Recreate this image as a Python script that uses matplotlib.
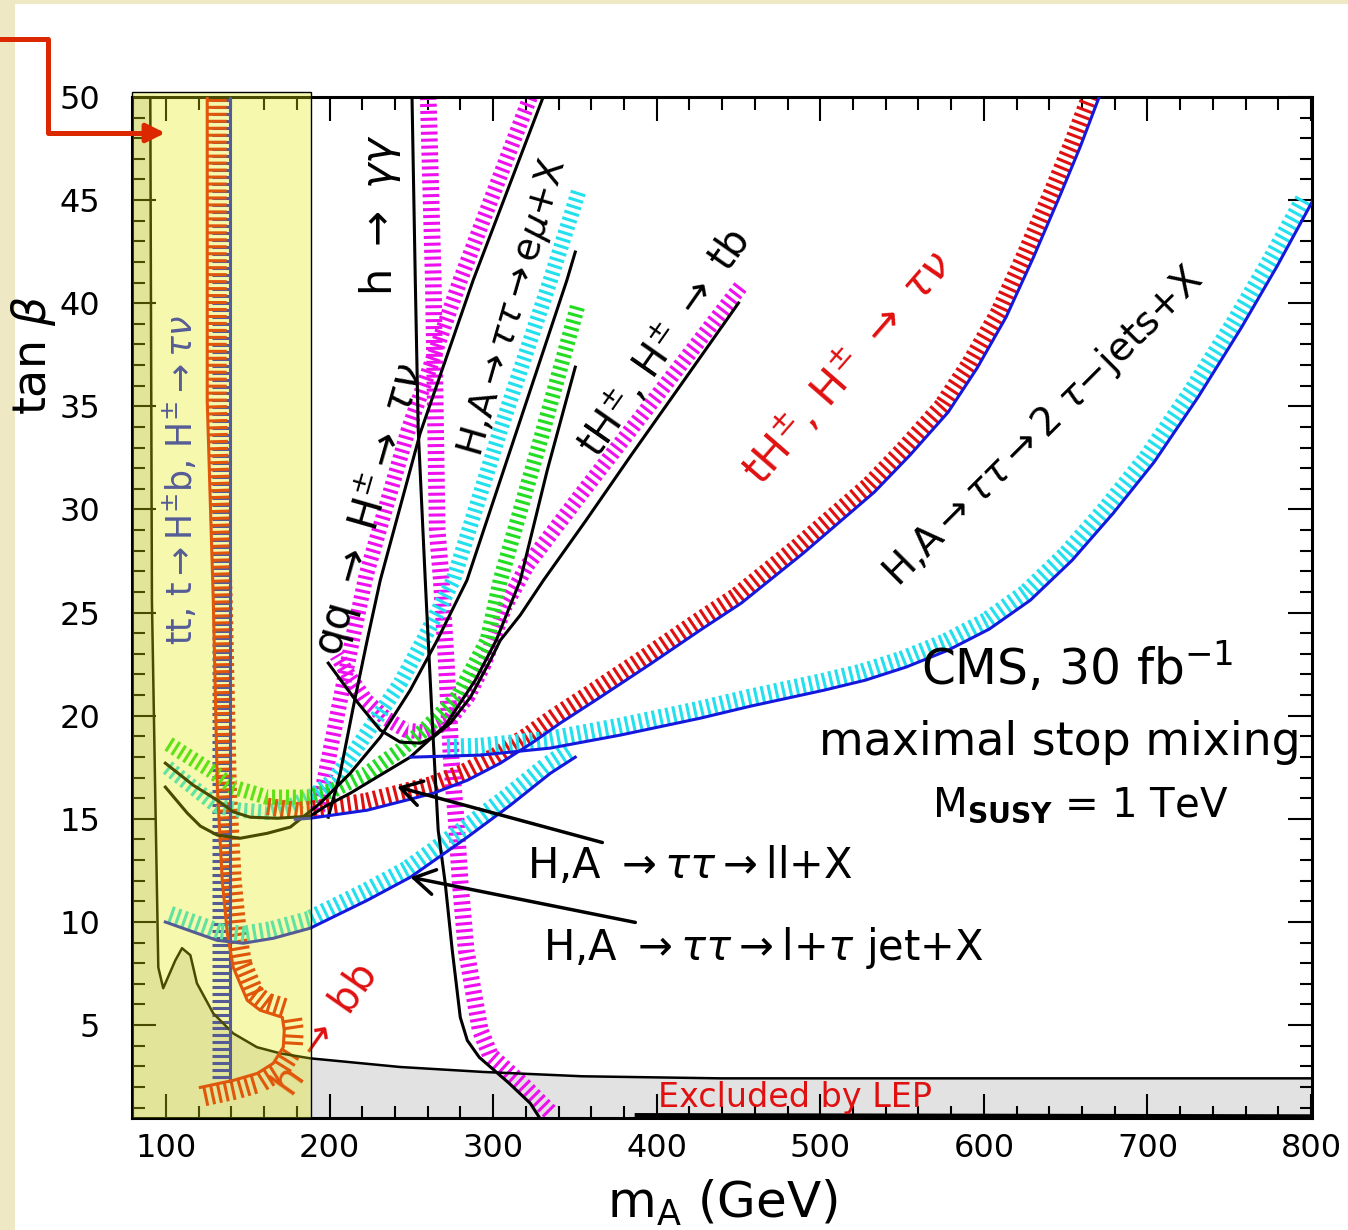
import matplotlib.pyplot as plt
from matplotlib.patches import Rectangle, FancyArrowPatch
from matplotlib.lines import Line2D
from matplotlib.patheffects import TickedStroke
from matplotlib.ticker import MultipleLocator

plt.rcParams['font.family'] = ['DejaVu Sans']
plt.rcParams['mathtext.fontset'] = 'dejavusans'
plt.rcParams['lines.scale_dashes'] = False

MAGENTA = '#EE10EE'
CYAN = '#22E0EE'
GREEN = '#22DD22'
RED = '#E01010'
BLUE = '#1418DC'

# all curves: x = m_A (GeV), y = tan(beta)

# theoretically forbidden region + LEP exclusion boundary
lep_x = [90.4, 91.4, 93.5, 95.3, 98.3, 105.7, 109.8, 114.9, 118.9, 128.9, 141.1,
         155.6, 169.9, 188.2, 243.2, 294.0, 354.5, 438.9, 800.6]
lep_y = [50.0, 25.6, 15.9, 7.8, 6.79, 8.14, 8.73, 8.39, 7.03, 5.57, 4.60,
         3.93, 3.63, 3.39, 2.97, 2.73, 2.52, 2.42, 2.42]
low_x = [388.0, 800.6]
low_y = [0.62, 0.56]

# tt, t -> H+b, H+ -> tau nu
tt_x = [139.2, 139.2]
tt_y = [50.0, 2.3]

# h -> bb
hbb_x = [125.2, 125.2, 128.9, 131.4, 134.4, 137.5, 141.1, 149.7, 157.6, 171.1,
         172.3, 171.7, 165.6, 155.8, 141.1, 121.0]
hbb_y = [50.0, 35.3, 25.6, 16.5, 12.0, 9.45, 7.8, 6.2, 5.72, 5.38,
         4.75, 3.93, 3.15, 2.66, 2.32, 1.98]

# h -> gamma gamma
gg_x = [250.4, 252.4, 254.2, 258.5, 260.3, 263.4, 266.4, 270.7, 275.0, 279.9,
        284.2, 291.5, 309.8, 322.7, 328.2]
gg_y = [50.0, 41.12, 33.85, 26.57, 23.66, 18.81, 14.45, 11.88, 8.63, 5.38,
        4.26, 3.44, 2.18, 1.21, 0.53]
ggb_x = [260.3, 263.4, 265.8, 268.3, 271.3, 274.4, 277.4, 279.9, 283.5, 287.8,
         292.1, 298.3, 317.2, 335.6]
ggb_y = [50.0, 41.12, 29.0, 26.57, 22.69, 17.84, 14.93, 11.88, 8.63, 6.69,
         4.75, 3.54, 2.18, 0.72]

# qq -> H+ -> tau nu
qq_x = [330.6, 287.8, 255.4, 231.0, 223.0, 214.5, 206.5, 199.2]
qq_y = [50.0, 41.12, 33.7, 26.57, 23.66, 20.42, 17.21, 15.08]
qqb_x = [322.7, 279.9, 248.1, 222.4, 213.9, 206.5, 199.2, 194.3, 191.9]
qqb_y = [50.0, 41.12, 33.85, 26.82, 23.66, 20.75, 17.84, 15.9, 15.18]

# H,A -> tau tau -> e mu + X
emu_x = [350.2, 345.1, 316.6, 284.0, 265.8, 249.3, 231.0, 212.6, 194.3, 176.0,
         161.9, 145.4, 131.4, 121.0, 113.0, 99.6]
emu_y = [42.48, 41.12, 34.33, 26.57, 23.66, 21.24, 18.96, 17.21, 15.76, 14.6,
         14.3, 14.06, 14.21, 14.65, 15.28, 16.54]
emub_x = [352.1, 335.0, 304.4, 275.6, 257.3, 243.2, 229.2, 216.9, 202.3, 190.1,
          176.0, 161.9, 145.4, 131.4, 114.9, 100.8]
emub_y = [45.39, 41.12, 33.85, 26.57, 23.66, 21.58, 19.93, 18.47, 16.87, 16.15,
          15.61, 15.32, 15.42, 15.61, 16.63, 17.5]

# H,A -> tau tau -> ll + X
ll_x = [350.2, 333.1, 316.6, 301.9, 289.1, 270.8, 249.3, 231.0, 212.6, 197.4,
        188.2, 168.0, 151.5, 141.1, 131.4, 116.7, 99.6]
ll_y = [36.9, 31.91, 26.57, 23.66, 21.72, 19.54, 17.99, 17.12, 16.24, 15.61,
        15.13, 15.03, 15.08, 15.34, 15.9, 16.63, 17.7]
llb_x = [351.5, 328.9, 304.4, 296.4, 278.1, 259.7, 243.2, 223.0, 202.3, 186.4,
         161.9, 141.1, 127.1, 110.6, 100.8]
llb_y = [39.82, 33.36, 26.57, 23.66, 20.9, 19.45, 18.33, 17.21, 16.39, 16.05,
         16.05, 16.54, 17.36, 18.18, 18.67]

# tH+, H+ -> tb
tb_x = [450.0, 420.7, 384.0, 356.5, 330.8, 316.6, 304.4, 298.3, 286.1, 273.8,
        263.4, 255.5, 243.2, 231.0, 214.5, 199.2]
tb_y = [40.01, 36.71, 32.59, 29.44, 26.57, 24.88, 23.66, 22.69, 20.9, 19.64,
        18.96, 18.67, 18.72, 19.3, 20.9, 22.55]
tbb_x = [451.2, 420.7, 384.0, 353.4, 321.0, 307.6, 294.2, 284.4, 272.2, 258.7,
         246.5, 234.3, 222.1, 211.6, 204.3]
tbb_y = [40.79, 37.63, 33.85, 30.7, 27.3, 25.36, 22.45, 20.9, 19.69, 19.2,
         19.3, 19.88, 20.75, 21.97, 22.94]

# tH+, H+ -> tau nu
hpm_x = [179.0, 188.2, 223.0, 263.4, 284.2, 304.4, 324.5, 341.0, 365.5, 396.0,
         426.6, 451.7, 489.6, 533.0, 554.9, 578.2, 595.9, 613.6, 630.1, 646.7,
         658.9, 670.5]
hpm_y = [14.98, 15.03, 15.42, 16.24, 16.87, 17.7, 18.72, 19.64, 20.9, 22.5,
         24.15, 25.46, 27.88, 30.84, 32.64, 34.72, 36.86, 39.33, 42.19, 45.25,
         47.58, 50.0]
hpmb_x = [160.0, 179.0, 188.2, 223.0, 263.4, 284.2, 304.4, 324.5, 341.0, 365.5,
          396.0, 426.6, 451.7, 489.6, 533.0, 554.9, 578.2, 595.9, 613.6, 630.1,
          646.7, 658.9, 670.5]
hpmb_y = [15.2, 14.98, 15.03, 15.42, 16.24, 16.87, 17.7, 18.72, 19.64, 20.9,
          22.5, 24.15, 25.46, 27.88, 30.84, 32.64, 34.72, 36.86, 39.33, 42.19,
          45.25, 47.58, 50.0]

# H,A -> tau tau -> 2 tau-jets + X
t2_x = [249.4, 292.1, 334.9, 377.7, 426.6, 457.2, 502.4, 527.4, 552.5, 578.2,
        603.3, 628.4, 654.0, 679.1, 704.1, 731.0, 757.3, 779.3, 800.6]
t2_y = [17.99, 18.09, 18.43, 19.06, 19.88, 20.46, 21.24, 21.72, 22.36, 23.18,
        24.2, 25.6, 27.54, 29.82, 32.3, 35.45, 38.8, 41.8, 44.9]
t2b_x = [270.8, 292.1, 334.9, 377.7, 426.6, 457.2, 502.4, 527.4, 552.5, 578.2,
         603.3, 628.4, 654.0, 679.1, 704.1, 731.0, 757.3, 779.3, 800.6]
t2b_y = [18.04, 18.09, 18.43, 19.06, 19.88, 20.46, 21.24, 21.72, 22.36, 23.18,
         24.2, 25.6, 27.54, 29.82, 32.3, 35.45, 38.8, 41.8, 44.9]

# H,A -> tau tau -> l + tau jet + X
lt_x = [99.6, 131.2, 147.2, 165.6, 188.2, 223.0, 249.4, 284.2, 310.5, 335.0, 350.2]
lt_y = [10.0, 9.11, 8.97, 9.21, 9.7, 11.05, 12.17, 14.11, 15.66, 17.21, 17.99]

# region covered by the semi-transparent box
box_x = [79.2, 188.6]
box_y = [0.5, 50.24]

fig = plt.figure(figsize=(13.48, 12.30), dpi=100, facecolor='#EEE8C4')
fig.add_artist(Rectangle((15 / 1348, 0), 1, 1 - 4 / 1230, transform=fig.transFigure,
                         facecolor='white', edgecolor='none', zorder=-5))

ax = fig.add_axes([0.0979, 0.0911, 0.8754, 0.8301])
ax.set_xlim(79.2, 800.6)
ax.set_ylim(0.5, 50)


def band(x, y, color, lw=11):
    ax.plot(x, y, color=color, lw=lw, ls=(0, (2.2, 2.8)), zorder=2)


def ticked(x, y, color, angle, length):
    ax.plot(x, y, color=color, lw=2.2, solid_capstyle='butt', zorder=2,
            path_effects=[TickedStroke(angle=angle, spacing=5, length=length)])


def line(x, y, color='k', lw=2.2):
    ax.plot(x, y, color=color, lw=lw, zorder=3, solid_joinstyle='round')


# excluded area
ax.fill([box_x[0]] + lep_x + [800.6, box_x[0]], [50.0] + lep_y + [0.5, 0.5],
        color='#E2E2E2', lw=0, zorder=0.5)
line(lep_x, lep_y, lw=1.8)
line(low_x, low_y, lw=3.5)

# hatched bands
ticked(tt_x, tt_y, BLUE, -90, 2.6)
ticked(hbb_x, hbb_y, RED, 90, 2.8)
band(ggb_x, ggb_y, MAGENTA, 12)
band(qqb_x, qqb_y, MAGENTA)
band(tbb_x, tbb_y, MAGENTA)
band(emub_x, emub_y, CYAN)
band(llb_x, llb_y, GREEN)
ticked(hpmb_x, hpmb_y, RED, 90, 2.5)
ticked(t2b_x, t2b_y, CYAN, 90, 2.5)
ticked(lt_x, lt_y, CYAN, 90, 2.5)

# solid curves
line(tt_x, tt_y, BLUE)
line(hbb_x, hbb_y, RED)
line(gg_x, gg_y)
line(qq_x, qq_y)
line(emu_x, emu_y)
line(ll_x, ll_y)
line(tb_x, tb_y)
line(hpm_x, hpm_y, BLUE)
line(t2_x, t2_y, BLUE)
line(lt_x, lt_y, BLUE)

# channel labels
lab = dict(ha='center', va='center', rotation_mode='anchor', zorder=4)
ax.text(108.8, 31.4, r'tt, t$\rightarrow$H$^{\pm}$b, H$^{\pm}\rightarrow\tau\nu$',
        color=BLUE, fontsize=25, rotation=90, **lab)
ax.text(197.4, 4.75, r'h $\rightarrow$ bb', color=RED, fontsize=29, rotation=55, **lab)
ax.text(231.0, 44.3, r'h $\rightarrow$ $\gamma\gamma$', fontsize=31, rotation=90, **lab)
ax.text(224.0, 30.0, r'qq $\rightarrow$ H$^{\pm}\rightarrow$ $\tau\nu$', fontsize=30,
        rotation=74, **lab)
ax.text(312.5, 39.8, r'H,A$\rightarrow\tau\tau\rightarrow$e$\mu$+X', fontsize=27,
        rotation=74, **lab)
ax.text(405.4, 38.07, r'tH$^{\pm}$, H$^{\pm}$ $\rightarrow$ tb', fontsize=29,
        rotation=55, **lab)
ax.text(517.1, 36.86, r'tH$^{\pm}$, H$^{\pm}$ $\rightarrow$ $\tau\nu$', color=RED,
        fontsize=31, rotation=49, **lab)
ax.text(636.4, 34.0, r'H,A$\rightarrow\tau\tau\rightarrow$2 $\tau$$-$jets+X',
        fontsize=28, rotation=45, **lab)

ax.text(657.0, 22.3, r'CMS, 30 fb$^{-1}$', fontsize=35, ha='center', va='center')
ax.text(646.7, 18.72, 'maximal stop mixing', fontsize=33, ha='center', va='center')
ax.text(658.9, 15.66, r'M$_{\mathbf{SUSY}}$ = 1 TeV', fontsize=29, ha='center',
        va='center')
ax.text(484.6, 1.02, 'Excluded by LEP', color=RED, fontsize=24, ha='center',
        va='baseline')

arr = dict(arrowstyle='->,head_length=0.5,head_width=0.3', lw=2.5, color='k',
           mutation_scale=30, shrinkA=0, shrinkB=0)
ax.annotate(r'H,A $\rightarrow\tau\tau\rightarrow$ll+X', xy=(241.3, 16.55),
            xytext=(320.8, 12.7), fontsize=30, va='center', ha='left', arrowprops=arr)
ax.annotate(r'H,A $\rightarrow\tau\tau\rightarrow$l+$\tau$ jet+X', xy=(249.4, 12.17),
            xytext=(330.6, 8.73), fontsize=30, va='center', ha='left', arrowprops=arr)

# semi-transparent box over the low-mass region
ax.add_patch(Rectangle((box_x[0], box_y[0]), box_x[1] - box_x[0], box_y[1] - box_y[0],
                       facecolor=(225 / 255, 235 / 255, 0.0, 0.32),
                       edgecolor='k', lw=1, zorder=20, clip_on=False))

# axes and ticks
for s in ax.spines.values():
    s.set_linewidth(2.2)
ax.set_xticks(range(100, 801, 100))
ax.set_yticks(range(5, 51, 5))
ax.xaxis.set_minor_locator(MultipleLocator(20))
ax.yaxis.set_minor_locator(MultipleLocator(1))
ax.tick_params(which='both', direction='in', top=True, right=True, width=1.5)
ax.tick_params(which='major', length=17, labelsize=23)
ax.tick_params(which='minor', length=9)
ax.tick_params(axis='y', pad=23)
ax.tick_params(axis='x', pad=11)

fig.text(33 / 1348, 1 - 355 / 1230, r'tan $\beta$', fontsize=33, rotation=90,
         ha='center', va='center')
fig.text(722 / 1348, 1 - 1203 / 1230, r'm$_{\rm A}$ (GeV)', fontsize=36,
         ha='center', va='center')

# red pointer at the top-left
px = [0, 48, 48, 150]
py = [39, 39, 133, 133]
fig.add_artist(Line2D([p / 1348 for p in px], [1 - p / 1230 for p in py],
                      transform=fig.transFigure, color='#DC2800', lw=3.6, zorder=30))
fig.add_artist(FancyArrowPatch((140 / 1348, 1 - 133 / 1230), (168 / 1348, 1 - 133 / 1230),
                               transform=fig.transFigure, arrowstyle='-|>',
                               mutation_scale=28, color='#DC2800', lw=3.6, zorder=30))

fig.savefig('out.png', dpi=100, facecolor=fig.get_facecolor())
